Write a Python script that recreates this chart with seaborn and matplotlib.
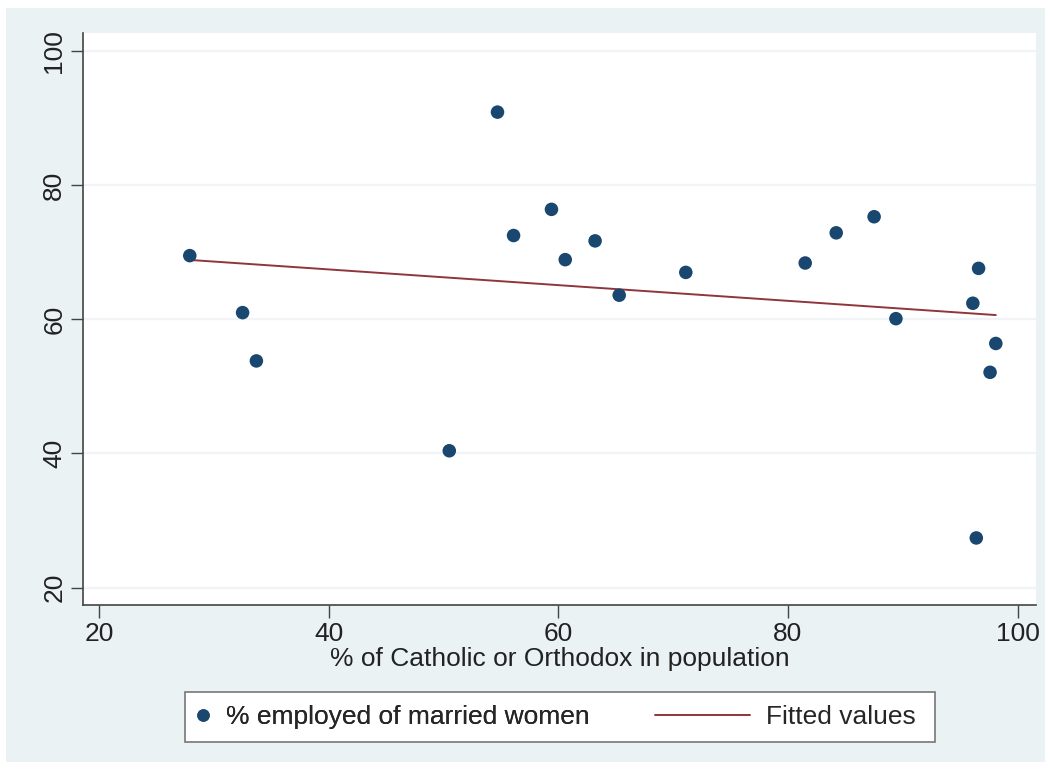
import numpy as np
import pandas as pd
import seaborn as sns
import matplotlib.pyplot as plt
from matplotlib.lines import Line2D
from matplotlib.patches import Rectangle

# share of Catholic or Orthodox (x) vs % of married women employed (y)
catholic_pct = [27.9, 32.5, 33.7, 50.5, 54.7, 56.1, 59.4, 60.6, 63.2, 65.3,
                71.1, 81.5, 84.2, 87.5, 89.4, 96.1, 96.6, 98.1, 97.6, 96.4]
employed_pct = [69.5, 61.0, 53.8, 40.4, 90.9, 72.5, 76.4, 68.9, 71.7, 63.6,
                67.0, 68.4, 72.9, 75.3, 60.1, 62.4, 67.6, 56.4, 52.1, 27.4]
x_ticks = [20, 40, 60, 80, 100]
y_ticks = [20, 40, 60, 80, 100]

NAVY = "#1a476f"
MAROON = "#90353b"
BG = "#eaf2f3"
FS = 19


def main():
    df = pd.DataFrame({"catholic": catholic_pct, "employed": employed_pct})

    sns.set_theme(style="white")
    plt.rcParams["font.family"] = ["Liberation Sans", "DejaVu Sans"]

    fig = plt.figure(figsize=(10.51, 7.69), dpi=100, facecolor="white")
    fig.patches.append(Rectangle((6 / 1051, 1 - 762 / 769), 1039 / 1051, 754 / 769,
                                 transform=fig.transFigure, facecolor=BG,
                                 edgecolor="none", zorder=-10))
    ax = fig.add_axes([83 / 1051, 1 - 605 / 769, 953 / 1051, 572 / 769])
    ax.set_facecolor("white")

    sns.regplot(data=df, x="catholic", y="employed", scatter=False, ci=None,
                color=MAROON, line_kws={"linewidth": 1.4}, ax=ax)
    sns.scatterplot(data=df, x="catholic", y="employed", color=NAVY, s=95,
                    edgecolor="none", ax=ax, zorder=3)

    ax.set_xlim(18.6, 101.6)
    ax.set_ylim(17.4, 102.7)
    ax.set_xticks(x_ticks)
    ax.set_yticks(y_ticks)
    ax.set_yticklabels([str(v) for v in y_ticks], rotation=90, va="center")
    ax.tick_params(axis="both", which="major", direction="out", length=9,
                   width=1, color="#444444", labelsize=FS, labelcolor="#222222",
                   left=True, bottom=True, pad=3)
    ax.yaxis.grid(True, color="#f0f4f6", linewidth=1.6)
    ax.set_axisbelow(True)
    for side in ["top", "right"]:
        ax.spines[side].set_visible(False)
    for side in ["left", "bottom"]:
        ax.spines[side].set_color("#444444")
        ax.spines[side].set_linewidth(1.2)

    ax.set_xlabel("% of Catholic or Orthodox in population", fontsize=FS,
                  color="#222222", labelpad=1)
    ax.set_ylabel("")

    # legend box below the plot, two entries
    fig.patches.append(Rectangle((185 / 1051, 1 - 742 / 769), 750 / 1051, 50 / 769,
                                 transform=fig.transFigure, facecolor="white",
                                 edgecolor="#777777", linewidth=1.2, zorder=1))
    h1 = Line2D([], [], marker="o", linestyle="none", color=NAVY, markersize=8)
    h2 = Line2D([], [], color=MAROON, linewidth=1.4)
    leg1 = fig.legend([h1], ["% employed of married women"], loc="center left",
                      bbox_to_anchor=(194 / 1051, 1 - 717 / 769), frameon=False,
                      fontsize=FS, handlelength=0.7, handletextpad=0.5,
                      borderaxespad=0, borderpad=0)
    fig.legend([h2], ["Fitted values"], loc="center right",
               bbox_to_anchor=(916 / 1051, 1 - 717 / 769), frameon=False,
               fontsize=FS, handlelength=3.6, handletextpad=0.6,
               borderaxespad=0, borderpad=0)
    fig.add_artist(leg1)

    fig.savefig("out.png", dpi=100, facecolor="white")


if __name__ == "__main__":
    main()
